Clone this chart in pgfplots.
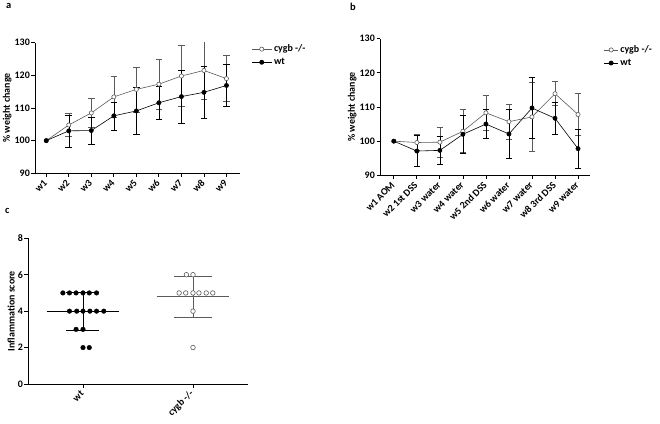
\documentclass[border=0pt]{standalone}
\usepackage{fontspec}
\setmainfont{Carlito}
\usepackage{pgfplots}
\pgfplotsset{compat=1.18}
\definecolor{cg}{HTML}{5A5A5A}

\pgfplotstableread{
x y e
1 100 0
2 104.8 3.5
3 108.5 4.4
4 113.4 6.3
5 115.7 6.9
6 117.3 7.7
7 119.8 9.4
8 121.5 8.8
9 119.0 7.0
}\aKO
\pgfplotstableread{
x y e
1 100 0
2 103.0 4.9
3 103.1 4.2
4 107.6 4.3
5 109.1 7.2
6 111.6 5.1
7 113.5 8.1
8 114.8 7.9
9 116.9 6.5
}\aWT
\pgfplotstableread{
x y e
1 100 0
2 99.6 2.4
3 99.7 4.3
4 102.9 6.3
5 108.3 5.2
6 105.7 5.1
7 107.1 10.2
8 113.9 3.5
9 107.8 6.1
}\bKO
\pgfplotstableread{
x y e
1 100 0
2 97.1 4.6
3 97.3 4.1
4 102.0 5.5
5 105.0 4.2
6 102.1 7.2
7 109.7 9.0
8 106.7 4.7
9 97.8 5.6
}\bWT

\pgfplotsset{
 myax/.style={
  scale only axis,
  axis x line=bottom, axis y line=left,
  axis line style={-, line width=0.9pt},
  tick align=outside,
  major tick length=3.5bp,
  every tick/.style={black, line width=0.8pt},
  tick label style={font=\fontsize{10}{11}\selectfont\bfseries},
  label style={font=\fontsize{10}{11}\selectfont\bfseries},
  /pgf/number format/assume math mode=true,
  xticklabel style={rotate=45, anchor=east, inner sep=1pt},
  xticklabel shift=4bp,
  yticklabel style={inner sep=1.5pt},
  legend style={draw=none, fill=none, font=\fontsize{10}{11}\selectfont\bfseries, row sep=1bp, inner sep=0pt},
  legend cell align=left,
 },
 ebar/.style={forget plot, draw=none, mark=none, restrict x to domain=1.5:10,
   error bars/.cd, y dir=both, y explicit,
   error bar style={#1, line width=0.55pt},
   error mark options={#1, line width=0.55pt, rotate=90, mark size=3.3bp}},
}

\begin{document}
\begin{tikzpicture}
\path[use as bounding box] (0,0) rectangle (660bp,424bp);
\node[font=\fontsize{10.5}{12}\selectfont\bfseries, anchor=north west, inner sep=0pt] at (6bp,421bp) {a};
\node[font=\fontsize{10.5}{12}\selectfont\bfseries, anchor=north west, inner sep=0pt] at (350bp,421bp) {b};
\node[font=\fontsize{10.5}{12}\selectfont\bfseries, anchor=north west, inner sep=0pt] at (5bp,216bp) {c};

% panel a
\begin{axis}[myax, at={(35bp,250.7bp)}, anchor=south west,
  width=205bp, height=130.6bp,
  xmin=0.5, xmax=9.6, ymin=90, ymax=130,
  ytick={90,100,110,120,130},
  xtick={1,...,9}, xticklabels={w1,w2,w3,w4,w5,w6,w7,w8,w9},
  ylabel={\% weight change},
  ylabel style={yshift=-2bp},
  legend image code/.code={\draw[mark repeat=2,mark phase=2,#1] plot coordinates {(0bp,0bp) (10bp,0bp) (20bp,0bp)};},
  legend style={at={(1.055,1.0)}, anchor=north west},
]
\addplot[ebar=cg] table[x=x,y=y,y error=e] {\aKO};
\addplot[ebar=black] table[x=x,y=y,y error=e] {\aWT};
\addplot[cg, line width=0.6pt, mark=*, mark options={fill=white, draw=cg, line width=0.6pt}, mark size=2.1bp] table[x=x,y=y] {\aKO};
\addlegendentry{cygb -/-}
\addplot[black, line width=0.6pt, mark=*, mark options={fill=black}, mark size=2.1bp] table[x=x,y=y] {\aWT};
\addlegendentry{wt}
\end{axis}

% panel b
\begin{axis}[myax, at={(380bp,248.7bp)}, anchor=south west,
  width=210bp, height=136.6bp,
  xmin=0.4, xmax=9.52, ymin=90, ymax=130,
  ytick={90,100,110,120,130},
  xtick={1,...,9}, xticklabels={w1 AOM,w2 1st DSS,w3 water,w4 water,w5 2nd DSS,w6 water,w7 water,w8 3rd DSS,w9 water},
  ylabel={\% weight change},
  ylabel style={yshift=-2bp},
  legend image code/.code={\draw[mark repeat=2,mark phase=2,#1] plot coordinates {(0bp,0bp) (7bp,0bp) (14bp,0bp)};},
  legend style={at={(1.065,0.965)}, anchor=north west},
]
\addplot[ebar=cg] table[x=x,y=y,y error=e] {\bKO};
\addplot[ebar=black] table[x=x,y=y,y error=e] {\bWT};
\addplot[cg, line width=0.6pt, mark=*, mark options={fill=white, draw=cg, line width=0.6pt}, mark size=2.1bp] table[x=x,y=y] {\bKO};
\addlegendentry{cygb -/-}
\addplot[black, line width=0.6pt, mark=*, mark options={fill=black}, mark size=2.1bp] table[x=x,y=y] {\bWT};
\addlegendentry{wt}
\end{axis}

% panel c
\begin{axis}[myax, at={(28bp,40bp)}, anchor=south west,
  width=220bp, height=145.7bp,
  xmin=-0.5, xmax=1.5, ymin=0, ymax=8,
  ytick={0,2,4,6,8},
  xtick={0,1}, xticklabels={wt,cygb -/-},
  ylabel={Inflammation score},
  ylabel style={yshift=-2bp},
]
% wt
\addplot[only marks, mark=*, black, mark size=2.3bp] coordinates {
(-0.183,5) (-0.123,5) (-0.063,5) (0,5) (0.057,5) (0.123,5)
(-0.123,4) (-0.057,4) (0,4) (0.063,4) (0.123,4) (0.189,4)
(-0.063,3) (0,3)
(0,2) (0.057,2)
};
\addplot[black, line width=0.6pt] coordinates {(-0.33,4.0) (0.33,4.0)};
\addplot[black, line width=0.6pt] coordinates {(-0.15,5.03) (0.15,5.03)};
\addplot[black, line width=0.6pt] coordinates {(-0.15,2.97) (0.15,2.97)};
\addplot[black, line width=0.6pt] coordinates {(0,2.97) (0,5.03)};
% cygb
\addplot[only marks, mark=*, cg, mark options={fill=white, draw=cg, line width=0.6pt}, mark size=2.3bp] coordinates {
(0.94,6) (1,6)
(0.874,5) (0.934,5) (1,5) (1.054,5) (1.12,5) (1.18,5)
(1,4)
(1,2)
};
\addplot[cg, line width=0.6pt] coordinates {(0.67,4.8) (1.33,4.8)};
\addplot[cg, line width=0.6pt] coordinates {(0.83,5.94) (1.17,5.94)};
\addplot[cg, line width=0.6pt] coordinates {(0.83,3.66) (1.17,3.66)};
\addplot[cg, line width=0.6pt] coordinates {(1,3.66) (1,5.94)};
\end{axis}
\end{tikzpicture}
\end{document}
